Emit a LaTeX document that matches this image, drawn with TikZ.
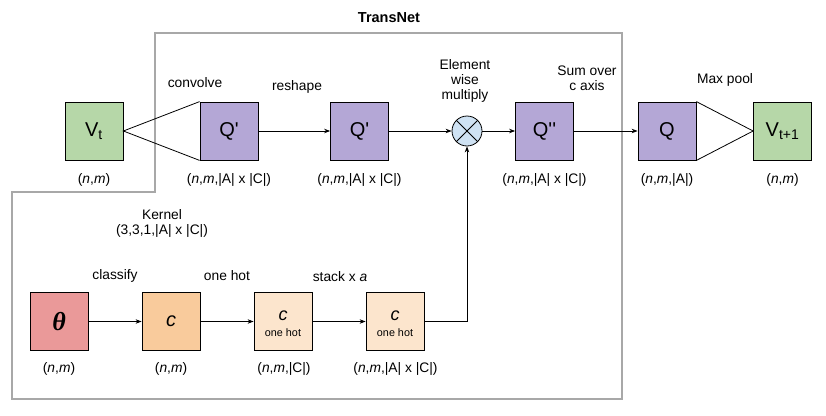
\documentclass[tikz,border=0pt]{standalone}
\usepackage{fontspec}
\setmainfont{Liberation Sans}
\newfontfamily\serifgr{Liberation Serif}
\usetikzlibrary{arrows.meta}
\definecolor{vgreen}{HTML}{B6D7A8}
\definecolor{qpurple}{HTML}{B4A7D6}
\definecolor{mblue}{HTML}{CFE2F3}
\definecolor{thred}{HTML}{EA9999}
\definecolor{corange}{HTML}{F9CB9C}
\definecolor{ohpeach}{HTML}{FCE5CD}
\definecolor{bordergray}{HTML}{A8A8A8}
\tikzset{
  box/.style={draw, line width=0.8pt, minimum width=58pt, minimum height=58pt, inner sep=0pt, font=\fontsize{20}{22}\selectfont},
  lbl/.style={font=\fontsize{13.8}{16}\selectfont, align=center, inner sep=0pt},
  arr/.style={line width=0.8pt, -{Stealth[length=6pt,width=4.5pt]}},
  ln/.style={line width=0.8pt},
}
\begin{document}
\begin{tikzpicture}[x=1pt,y=-1pt]
\useasboundingbox (0,0) rectangle (826,415);
% border
\draw[bordergray, line width=2pt] (155,33) -- (622,33) -- (622,399) -- (12,399) -- (12,192) -- (155,192) -- cycle;
\node[lbl, font=\fontsize{14.5}{16}\selectfont\bfseries] (title) at (389,18) {TransNet};
% top row
\node[box, fill=vgreen] (vt) at (94,131) {V\textsubscript{t}};
\node[box, fill=qpurple] (q1) at (229,131) {Q\textquotesingle};
\node[box, fill=qpurple] (q2) at (359.5,131) {Q\textquotesingle};
\node[draw, circle, fill=mblue, line width=0.8pt, minimum size=30pt, inner sep=0pt] (mul) at (467,131) {};
\draw[ln] (mul.45) -- (mul.225) (mul.135) -- (mul.315);
\node[box, fill=qpurple] (q3) at (544.5,131) {Q\textquotesingle\textquotesingle};
\node[box, fill=qpurple] (q4) at (667,131) {Q};
\node[box, fill=vgreen] (vt1) at (782.5,131) {V\textsubscript{t+1}};
\draw[ln] (q1.north west) -- (vt.east) -- (q1.south west);
\draw[ln] (q4.north east) -- (vt1.west) -- (q4.south east);
\draw[arr] (q1) -- (q2);
\draw[arr] (q2) -- (mul);
\draw[arr] (mul) -- (q3);
\draw[arr] (q3) -- (q4);
% top labels
\node[lbl] (lconv) at (195,83) {convolve};
\node[lbl] (lresh) at (297,87) {reshape};
\node[lbl] (lmul) at (465,81) {Element\\[-1pt]wise\\[-1pt]multiply};
\node[lbl] (lsum) at (587,78) {Sum over\\[-1pt]c axis};
\node[lbl] (lmax) at (725,80) {Max pool};
\node[lbl] (s1) at (94,180) {(\textit{n},\textit{m})};
\node[lbl] (s2) at (229,180) {(\textit{n},\textit{m},|A| x |C|)};
\node[lbl] (s3) at (359.5,180) {(\textit{n},\textit{m},|A| x |C|)};
\node[lbl] (s4) at (544.5,180) {(\textit{n},\textit{m},|A| x |C|)};
\node[lbl] (s5) at (667,180) {(\textit{n},\textit{m},|A|)};
\node[lbl] (s6) at (782.5,180) {(\textit{n},\textit{m})};
% bottom row
\node[box, fill=thred, font=\fontsize{26}{28}\selectfont] (th) at (59,321.5) {\serifgr\bfseries\itshape θ};
\node[box, fill=corange] (c1) at (171,321.5) {\textit{c}};
\node[box, fill=ohpeach] (c2) at (283,321.5) {};
\node[lbl, font=\fontsize{18}{20}\selectfont\itshape] (c2c) at (283,316) {c};
\node[lbl, font=\fontsize{10.8}{12}\selectfont] (c2o) at (283,333) {one hot};
\node[box, fill=ohpeach] (c3) at (395,321.5) {};
\node[lbl, font=\fontsize{18}{20}\selectfont\itshape] (c3c) at (395,316) {c};
\node[lbl, font=\fontsize{10.8}{12}\selectfont] (c3o) at (395,333) {one hot};
\draw[arr] (th) -- (c1);
\draw[arr] (c1) -- (c2);
\draw[arr] (c2) -- (c3);
\draw[arr] (c3.east) -| (mul.south);
\node[lbl] (lcls) at (115,276) {classify};
\node[lbl] (loh) at (227,276) {one hot};
\node[lbl] (lstk) at (340,277) {stack x \textit{a}};
\node[lbl] (lker) at (162,223) {Kernel\\[-1pt](3,3,1,|A| x |C|)};
\node[lbl] (b1) at (59,369) {(\textit{n},\textit{m})};
\node[lbl] (b2) at (171,369) {(\textit{n},\textit{m})};
\node[lbl] (b3) at (284,369) {(\textit{n},\textit{m},|C|)};
\node[lbl] (b4) at (395.5,369) {(\textit{n},\textit{m},|A| x |C|)};
\end{tikzpicture}
\end{document}
